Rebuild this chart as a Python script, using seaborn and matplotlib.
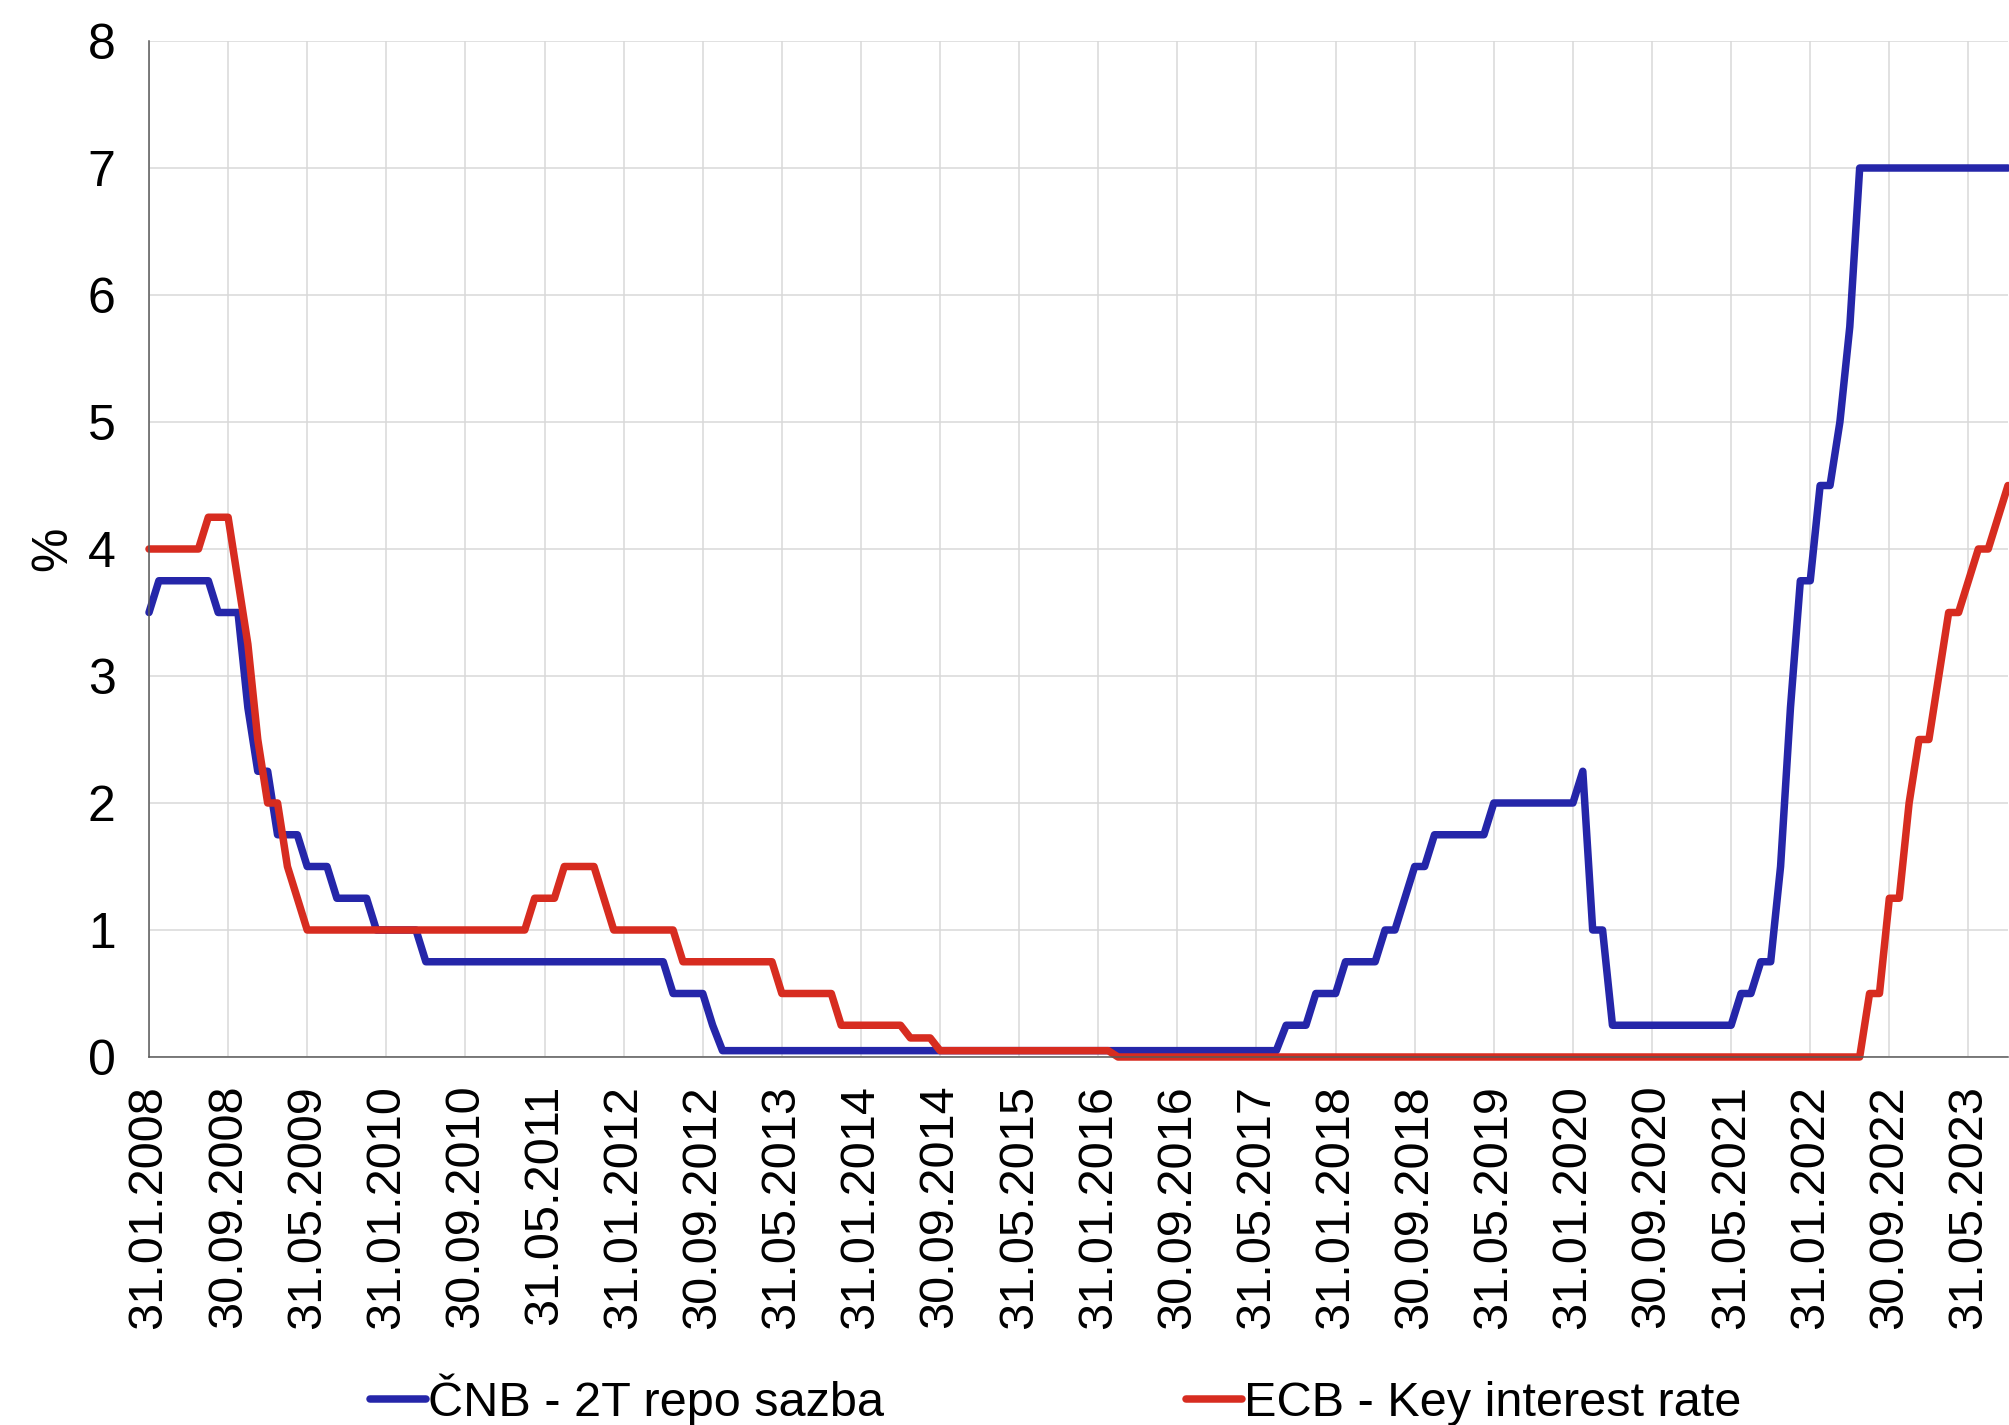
import matplotlib
matplotlib.use("Agg")
import matplotlib.pyplot as plt
from matplotlib.lines import Line2D
import numpy as np
import pandas as pd
import seaborn as sns

# Month-end policy rates, January 2008 - September 2023 (%)
cnb_2t_repo = [
    3.50, 3.75, 3.75, 3.75, 3.75, 3.75, 3.75, 3.50, 3.50, 3.50, 2.75, 2.25,  # 2008
    2.25, 1.75, 1.75, 1.75, 1.50, 1.50, 1.50, 1.25, 1.25, 1.25, 1.25, 1.00,  # 2009
    1.00, 1.00, 1.00, 1.00, 0.75, 0.75, 0.75, 0.75, 0.75, 0.75, 0.75, 0.75,  # 2010
    0.75, 0.75, 0.75, 0.75, 0.75, 0.75, 0.75, 0.75, 0.75, 0.75, 0.75, 0.75,  # 2011
    0.75, 0.75, 0.75, 0.75, 0.75, 0.50, 0.50, 0.50, 0.50, 0.25, 0.05, 0.05,  # 2012
    0.05, 0.05, 0.05, 0.05, 0.05, 0.05, 0.05, 0.05, 0.05, 0.05, 0.05, 0.05,  # 2013
    0.05, 0.05, 0.05, 0.05, 0.05, 0.05, 0.05, 0.05, 0.05, 0.05, 0.05, 0.05,  # 2014
    0.05, 0.05, 0.05, 0.05, 0.05, 0.05, 0.05, 0.05, 0.05, 0.05, 0.05, 0.05,  # 2015
    0.05, 0.05, 0.05, 0.05, 0.05, 0.05, 0.05, 0.05, 0.05, 0.05, 0.05, 0.05,  # 2016
    0.05, 0.05, 0.05, 0.05, 0.05, 0.05, 0.05, 0.25, 0.25, 0.25, 0.50, 0.50,  # 2017
    0.50, 0.75, 0.75, 0.75, 0.75, 1.00, 1.00, 1.25, 1.50, 1.50, 1.75, 1.75,  # 2018
    1.75, 1.75, 1.75, 1.75, 2.00, 2.00, 2.00, 2.00, 2.00, 2.00, 2.00, 2.00,  # 2019
    2.00, 2.25, 1.00, 1.00, 0.25, 0.25, 0.25, 0.25, 0.25, 0.25, 0.25, 0.25,  # 2020
    0.25, 0.25, 0.25, 0.25, 0.25, 0.50, 0.50, 0.75, 0.75, 1.50, 2.75, 3.75,  # 2021
    3.75, 4.50, 4.50, 5.00, 5.75, 7.00, 7.00, 7.00, 7.00, 7.00, 7.00, 7.00,  # 2022
    7.00, 7.00, 7.00, 7.00, 7.00, 7.00, 7.00, 7.00, 7.00,                    # 2023
]

ecb_key_rate = [
    4.00, 4.00, 4.00, 4.00, 4.00, 4.00, 4.25, 4.25, 4.25, 3.75, 3.25, 2.50,  # 2008
    2.00, 2.00, 1.50, 1.25, 1.00, 1.00, 1.00, 1.00, 1.00, 1.00, 1.00, 1.00,  # 2009
    1.00, 1.00, 1.00, 1.00, 1.00, 1.00, 1.00, 1.00, 1.00, 1.00, 1.00, 1.00,  # 2010
    1.00, 1.00, 1.00, 1.25, 1.25, 1.25, 1.50, 1.50, 1.50, 1.50, 1.25, 1.00,  # 2011
    1.00, 1.00, 1.00, 1.00, 1.00, 1.00, 0.75, 0.75, 0.75, 0.75, 0.75, 0.75,  # 2012
    0.75, 0.75, 0.75, 0.75, 0.50, 0.50, 0.50, 0.50, 0.50, 0.50, 0.25, 0.25,  # 2013
    0.25, 0.25, 0.25, 0.25, 0.25, 0.15, 0.15, 0.15, 0.05, 0.05, 0.05, 0.05,  # 2014
    0.05, 0.05, 0.05, 0.05, 0.05, 0.05, 0.05, 0.05, 0.05, 0.05, 0.05, 0.05,  # 2015
    0.05, 0.05, 0.00, 0.00, 0.00, 0.00, 0.00, 0.00, 0.00, 0.00, 0.00, 0.00,  # 2016
    0.00, 0.00, 0.00, 0.00, 0.00, 0.00, 0.00, 0.00, 0.00, 0.00, 0.00, 0.00,  # 2017
    0.00, 0.00, 0.00, 0.00, 0.00, 0.00, 0.00, 0.00, 0.00, 0.00, 0.00, 0.00,  # 2018
    0.00, 0.00, 0.00, 0.00, 0.00, 0.00, 0.00, 0.00, 0.00, 0.00, 0.00, 0.00,  # 2019
    0.00, 0.00, 0.00, 0.00, 0.00, 0.00, 0.00, 0.00, 0.00, 0.00, 0.00, 0.00,  # 2020
    0.00, 0.00, 0.00, 0.00, 0.00, 0.00, 0.00, 0.00, 0.00, 0.00, 0.00, 0.00,  # 2021
    0.00, 0.00, 0.00, 0.00, 0.00, 0.00, 0.50, 0.50, 1.25, 1.25, 2.00, 2.50,  # 2022
    2.50, 3.00, 3.50, 3.50, 3.75, 4.00, 4.00, 4.25, 4.50,                    # 2023
]

tick_labels = [
    "31.01.2008", "30.09.2008", "31.05.2009", "31.01.2010", "30.09.2010",
    "31.05.2011", "31.01.2012", "30.09.2012", "31.05.2013", "31.01.2014",
    "30.09.2014", "31.05.2015", "31.01.2016", "30.09.2016", "31.05.2017",
    "31.01.2018", "30.09.2018", "31.05.2019", "31.01.2020", "30.09.2020",
    "31.05.2021", "31.01.2022", "30.09.2022", "31.05.2023",
]

series_names = ["ČNB - 2T repo sazba", "ECB - Key interest rate"]
series_colors = ["#2526A9", "#D72C20"]

n = len(cnb_2t_repo)
month_idx = np.arange(n)
df = pd.DataFrame({
    "month": np.concatenate([month_idx, month_idx]),
    "rate": cnb_2t_repo + ecb_key_rate,
    "series": [series_names[0]] * n + [series_names[1]] * n,
})

sns.set_theme(style="white")
plt.rcParams["font.family"] = ["Liberation Sans", "DejaVu Sans"]
plt.rcParams["text.color"] = "black"
plt.rcParams["axes.labelcolor"] = "black"

W, H = 2009, 1425
fig = plt.figure(figsize=(W / 100, H / 100), dpi=100)
ax = fig.add_axes([149 / W, 1 - 1057 / H, (2008 - 149) / W, (1057 - 41) / H])

lw = 5.4
sns.lineplot(
    data=df, x="month", y="rate", hue="series", hue_order=series_names,
    palette=series_colors, linewidth=lw, legend=False, ax=ax,
)
for line in ax.lines:
    line.set_solid_joinstyle("round")
    line.set_solid_capstyle("round")
    line.set_clip_on(False)

fs = 35
ax.set_xlim(0, n - 1)
ax.set_ylim(0, 8)
ax.set_yticks(range(0, 9))
ax.set_yticklabels([str(v) for v in range(0, 9)], fontsize=fs + 1)
ax.set_xticks(np.arange(0, n, 8)[: len(tick_labels)])
ax.set_xticklabels(tick_labels, rotation=90, fontsize=fs)
ax.set_xlabel("")
ax.set_ylabel("%", fontsize=fs + 1, labelpad=8)

ax.grid(True, color="#D9D9D9", linewidth=1.1)
ax.set_axisbelow(True)
for side in ["top", "right"]:
    ax.spines[side].set_visible(False)
for side in ["left", "bottom"]:
    ax.spines[side].set_color("#595959")
    ax.spines[side].set_linewidth(1.1)
ax.tick_params(axis="both", which="major", direction="out", length=10,
               width=1.1, color="#595959", labelcolor="black")
ax.tick_params(axis="x", pad=10)
ax.tick_params(axis="y", pad=14)

handles = [Line2D([0], [0], color=c, linewidth=lw, solid_capstyle="round")
           for c in series_colors]
leg = fig.legend(
    handles, series_names, loc="center left",
    bbox_to_anchor=(370 / W, 1 - 1400 / H), ncol=2, frameon=False,
    fontsize=fs, handlelength=1.15, handletextpad=0.05, columnspacing=6.2,
    borderpad=0, borderaxespad=0,
)
for t in leg.get_texts():
    t.set_color("black")

fig.savefig("out.png", dpi=100)
